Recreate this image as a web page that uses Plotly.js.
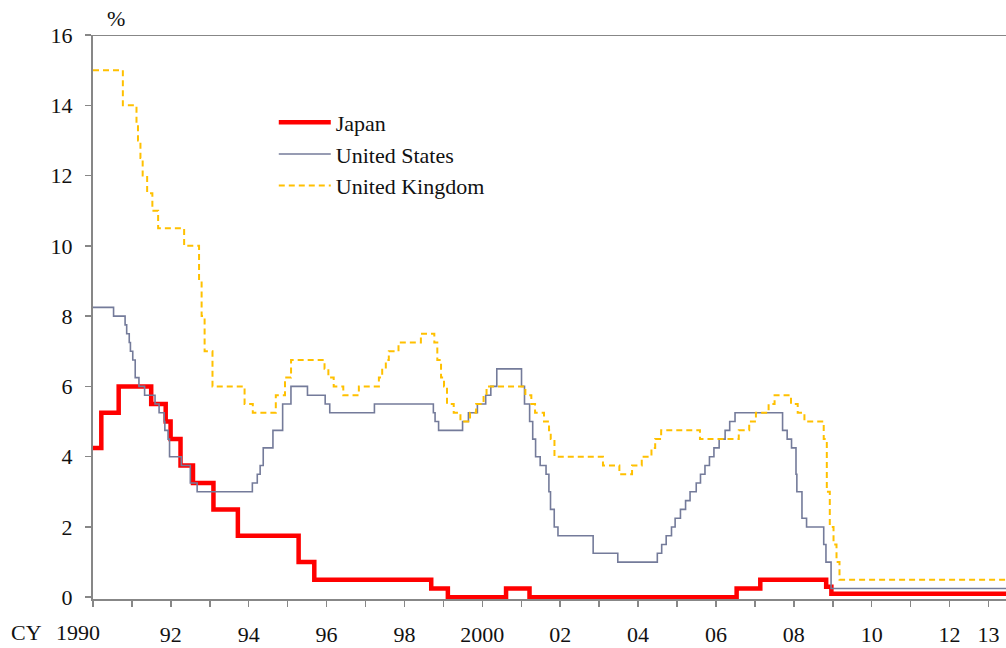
<!DOCTYPE html>
<html>
<head>
<meta charset="utf-8">
<script src="https://cdn.plot.ly/plotly-3.0.1.min.js"></script>
<style>html,body{margin:0;padding:0;background:#fff;}#chart{width:1006px;height:648px;}</style>
</head>
<body>
<div id="chart"></div>
<script>
// Japan policy rate (%), step changes
const japanDates = ['1990-01-01','1990-03-20','1990-08-30','1991-07-01','1991-11-14','1991-12-30','1992-04-01','1992-07-27','1993-02-04','1993-09-21','1995-04-14','1995-09-08','1998-09-09','1999-02-12','2000-08-11','2001-03-19','2006-07-14','2007-02-21','2008-10-31','2008-12-19','2013-06-30'];
const japanRates = [4.25,5.25,6.0,5.5,5.0,4.5,3.75,3.25,2.5,1.75,1.0,0.5,0.25,0.0,0.25,0.0,0.25,0.5,0.3,0.1,0.1];

// United States policy rate (%)
const usDates = ['1990-01-01','1990-07-13','1990-10-29','1990-11-13','1990-12-07','1990-12-18','1991-01-09','1991-02-01','1991-03-08','1991-04-30','1991-08-06','1991-09-13','1991-10-31','1991-11-06','1991-12-06','1991-12-20','1992-04-09','1992-07-02','1992-09-04','1994-02-04','1994-03-22','1994-04-18','1994-05-17','1994-08-16','1994-11-15','1995-02-01','1995-07-06','1995-12-19','1996-01-31','1997-03-25','1998-09-29','1998-10-15','1998-11-17','1999-06-30','1999-08-24','1999-11-16','2000-02-02','2000-03-21','2000-05-16','2001-01-03','2001-01-31','2001-03-20','2001-04-18','2001-05-15','2001-06-27','2001-08-21','2001-09-17','2001-10-02','2001-11-06','2001-12-11','2002-11-06','2003-06-25','2004-06-30','2004-08-10','2004-09-21','2004-11-10','2004-12-14','2005-02-02','2005-03-22','2005-05-03','2005-06-30','2005-08-09','2005-09-20','2005-11-01','2005-12-13','2006-01-31','2006-03-28','2006-05-10','2006-06-29','2007-09-18','2007-10-31','2007-12-11','2008-01-22','2008-01-30','2008-03-18','2008-04-30','2008-10-08','2008-10-29','2008-12-16','2013-06-30'];
const usRates = [8.25,8.0,7.75,7.5,7.25,7.0,6.75,6.25,6.0,5.75,5.5,5.25,5.0,4.75,4.5,4.0,3.75,3.25,3.0,3.25,3.5,3.75,4.25,4.75,5.5,6.0,5.75,5.5,5.25,5.5,5.25,5.0,4.75,5.0,5.25,5.5,5.75,6.0,6.5,6.0,5.5,5.0,4.5,4.0,3.75,3.5,3.0,2.5,2.0,1.75,1.25,1.0,1.25,1.5,1.75,2.0,2.25,2.5,2.75,3.0,3.25,3.5,3.75,4.0,4.25,4.5,4.75,5.0,5.25,4.75,4.5,4.25,3.5,3.0,2.25,2.0,1.5,1.0,0.25,0.25];

// United Kingdom policy rate (%)
const ukDates = ['1990-01-01','1990-10-08','1991-02-13','1991-02-27','1991-03-22','1991-04-12','1991-05-24','1991-07-12','1991-09-04','1992-05-05','1992-09-22','1992-10-16','1992-11-13','1993-01-26','1993-11-23','1994-02-08','1994-09-12','1994-12-07','1995-02-02','1995-12-13','1996-01-18','1996-03-08','1996-06-06','1996-10-30','1997-05-06','1997-06-06','1997-07-10','1997-08-07','1997-11-06','1998-06-04','1998-10-08','1998-11-05','1998-12-10','1999-01-07','1999-02-04','1999-04-08','1999-06-10','1999-09-08','1999-11-04','2000-01-13','2000-02-10','2001-02-08','2001-04-05','2001-05-10','2001-08-02','2001-09-18','2001-10-04','2001-11-08','2003-02-06','2003-07-10','2003-11-06','2004-02-05','2004-05-06','2004-06-10','2004-08-05','2005-08-04','2006-08-03','2006-11-09','2007-01-11','2007-05-10','2007-07-05','2007-12-06','2008-02-07','2008-04-10','2008-10-08','2008-11-06','2008-12-04','2009-01-08','2009-02-05','2009-03-05','2013-06-30'];
const ukRates = [15,14,13.5,13,12.5,12,11.5,11,10.5,10,9,8,7,6,5.5,5.25,5.75,6.25,6.75,6.5,6.25,6.0,5.75,6.0,6.25,6.5,6.75,7.0,7.25,7.5,7.25,6.75,6.25,6.0,5.5,5.25,5.0,5.25,5.5,5.75,6.0,5.75,5.5,5.25,5.0,4.75,4.5,4.0,3.75,3.5,3.75,4.0,4.25,4.5,4.75,4.5,4.75,5.0,5.25,5.5,5.75,5.5,5.25,5.0,4.5,3.0,2.0,1.5,1.0,0.5,0.5];

// Tick labels
const yearTicks = ['1990','1991','1992','1993','1994','1995','1996','1997','1998','1999','2000','2001','2002','2003','2004','2005','2006','2007','2008','2009','2010','2011','2012','2013'];
const yearLabels = ['','','92','','94','','96','','98','','2000','','02','','04','','06','','08','','10','','12','13'];
const yTicks = [0,2,4,6,8,10,12,14,16];

const FONT = '"Liberation Serif", "Times New Roman", serif';
const FS = 22;
const LFS = 22;
const TXT = '#111111';
const AX = '#878787';

const traces = [
  {x: japanDates, y: japanRates, name: 'Japan', type: 'scatter', mode: 'lines',
   line: {shape: 'hv', color: '#FF0000', width: 4.5}},
  {x: usDates, y: usRates, name: 'United States', type: 'scatter', mode: 'lines',
   line: {shape: 'hv', color: '#747B9A', width: 1.6}},
  {x: ukDates, y: ukRates, name: 'United Kingdom', type: 'scatter', mode: 'lines',
   line: {shape: 'hv', color: '#FFC000', width: 2, dash: '6px,4px'}}
];

const layout = {
  width: 1006, height: 648,
  margin: {l: 93, r: 0, t: 35, b: 49},
  paper_bgcolor: '#ffffff', plot_bgcolor: '#ffffff',
  font: {family: FONT, size: FS, color: TXT},
  showlegend: true,
  legend: {x: 0.198, y: 0.882, xanchor: 'left', yanchor: 'top', bgcolor: 'rgba(0,0,0,0)',
           itemwidth: 52, font: {family: FONT, size: LFS, color: TXT}, tracegroupgap: 0},
  xaxis: {
    type: 'date', range: ['1990-01-01', '2013-06-14'],
    tickmode: 'array', tickvals: yearTicks.map(y => y + '-01-01'), ticktext: yearLabels,
    ticks: 'outside', ticklen: 6, tickwidth: 1.5, tickcolor: AX,
    showline: true, linecolor: AX, linewidth: 2, showgrid: false, zeroline: false,
    tickfont: {family: FONT, size: FS, color: TXT}, ticklabelstandoff: 9
  },
  yaxis: {
    range: [-0.05, 16], tickmode: 'array', tickvals: yTicks,
    ticks: 'outside', ticklen: 6, tickwidth: 1.5, tickcolor: AX,
    showline: true, linecolor: AX, linewidth: 2, showgrid: false, zeroline: false,
    tickfont: {family: FONT, size: FS, color: TXT}, ticklabelstandoff: 8
  },
  shapes: [
    {type: 'line', xref: 'paper', yref: 'y', x0: 0, x1: 1, y0: 16, y1: 16,
     line: {color: AX, width: 2}}
  ],
  annotations: [
    {xref: 'paper', yref: 'paper', x: 0, y: 1, xanchor: 'left', yanchor: 'bottom', xshift: 12, yshift: 2,
     text: '%', showarrow: false, font: {family: FONT, size: FS, color: TXT}},
    {xref: 'x', yref: 'paper', x: '1990-01-01', y: 0, xanchor: 'center', yanchor: 'top', xshift: -15, yshift: -19,
     text: '1990', showarrow: false, font: {family: FONT, size: FS, color: TXT}},
    {xref: 'x', yref: 'paper', x: '1990-01-01', y: 0, xanchor: 'center', yanchor: 'top', xshift: -67, yshift: -19,
     text: 'CY', showarrow: false, font: {family: FONT, size: FS, color: TXT}}
  ]
};

Plotly.newPlot('chart', traces, layout, {displayModeBar: false, staticPlot: true});
</script>
</body>
</html>
